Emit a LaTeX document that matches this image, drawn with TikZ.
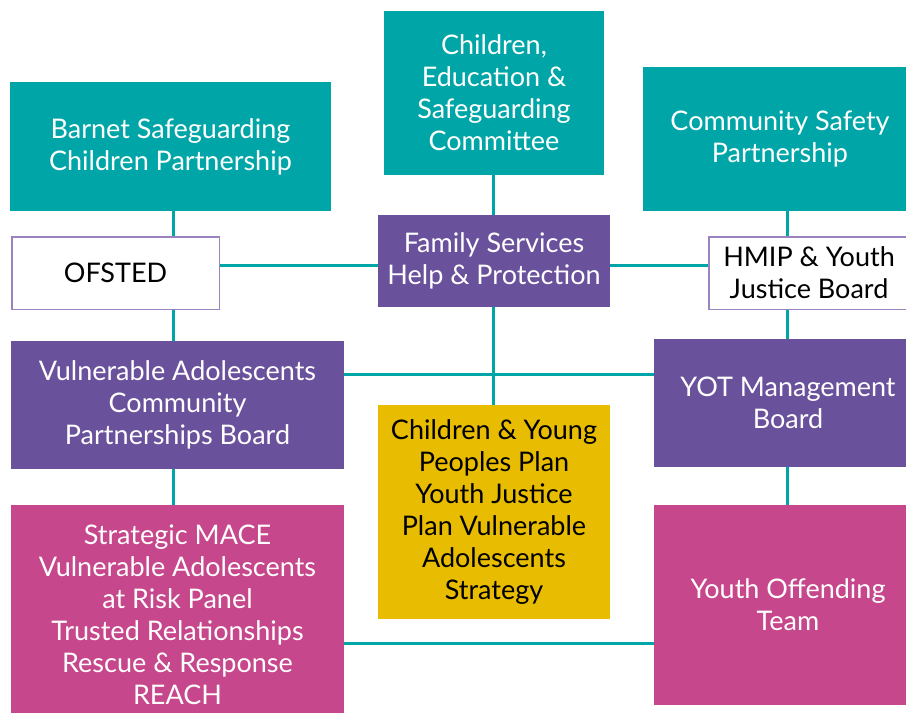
\documentclass[tikz,border=0pt]{standalone}
\usepackage{fontspec}
\setmainfont{Lato}
\usepackage{tikz}

\definecolor{tealbg}{HTML}{00A6A7}
\definecolor{purplebg}{HTML}{6A519C}
\definecolor{pinkbg}{HTML}{C6478B}
\definecolor{yellowbg}{HTML}{E8BC00}
\definecolor{lilacline}{HTML}{9A83BF}

\begin{document}
\begin{tikzpicture} [x=1pt, y=-1pt,
nodes={inner sep=0pt, align=center, font=\fontsize{27}{32}\selectfont},
tealbox/.style={fill=tealbg, text=white},
purplebox/.style={fill=purplebg, text=white},
pinkbox/.style={fill=pinkbg, text=white},
yellowbox/.style={fill=yellowbg, text=black},
whitebox/.style={fill=white, draw=lilacline, line width=1.5pt, text=black},
link/.style={draw=tealbg, line width=3pt}]
%    outer frame
\useasboundingbox (0,0) rectangle (906,713);
\clip (0,0) rectangle (906,713);

\coordinate (spineL) at (173,0);
\coordinate (spineM) at (493,0);
\coordinate (spineR) at (787,0);
\coordinate (rowA) at (0,265);
\coordinate (rowB) at (0,374);
\coordinate (rowC) at (0,643);

% boxes
\node[tealbox, minimum width=321pt, minimum height=129pt] (barnet) at (170.5,146.5) {Barnet Safeguarding\\Children Partnership};
\node[tealbox, minimum width=220pt, minimum height=164pt] (ces) at (494,93) {Children,\\Education \&\\Safeguarding\\Committee};
\node[tealbox, minimum width=274pt, minimum height=144pt] (csp) at (780,139) {Community Safety\\Partnership};
\node[whitebox, minimum width=207.5pt, minimum height=72.5pt] (ofsted) at (115.5,273) {OFSTED};
\node[purplebox, minimum width=232pt, minimum height=92pt] (fsh) at (494,261) {Family Services\\Help \& Protection};
\node[whitebox, minimum width=200.5pt, minimum height=72.5pt] (hmip) at (809,273) {HMIP \& Youth\\Justice Board};
\node[purplebox, minimum width=333pt, minimum height=128pt] (vacp) at (177.5,405) {Vulnerable Adolescents\\Community\\Partnerships Board};
\node[purplebox, minimum width=268pt, minimum height=128pt] (yotmb) at (788,403) {YOT Management\\Board};
\node[yellowbox, minimum width=232pt, minimum height=214pt] (plan) at (494,512) {Children \& Young\\Peoples Plan\\Youth Justice\\Plan Vulnerable\\Adolescents\\Strategy};
\node[pinkbox, minimum width=333pt, minimum height=220pt] (mace) at (177.5,615) {Strategic MACE\\Vulnerable Adolescents\\at Risk Panel\\Trusted Relationships\\Rescue \& Response\\REACH};
\node[pinkbox, minimum width=268pt, minimum height=200pt] (yot) at (788,605) {Youth Offending\\Team};

% connectors
\draw[link] (barnet.south -| spineL) -- (ofsted.north -| spineL);
\draw[link] (ofsted.south -| spineL) -- (vacp.north -| spineL);
\draw[link] (vacp.south -| spineL) -- (mace.north -| spineL);
\draw[link] (ces.south -| spineM) -- (fsh.north -| spineM);
\draw[link] (fsh.south -| spineM) -- (plan.north -| spineM);
\draw[link] (csp.south -| spineR) -- (hmip.north -| spineR);
\draw[link] (hmip.south -| spineR) -- (yotmb.north -| spineR);
\draw[link] (yotmb.south -| spineR) -- (yot.north -| spineR);
\draw[link] (ofsted.east |- rowA) -- (fsh.west |- rowA);
\draw[link] (fsh.east |- rowA) -- (hmip.west |- rowA);
\draw[link] (vacp.east |- rowB) -- (yotmb.west |- rowB);
\draw[link] (mace.east |- rowC) -- (yot.west |- rowC);

\end{tikzpicture}
\end{document}
